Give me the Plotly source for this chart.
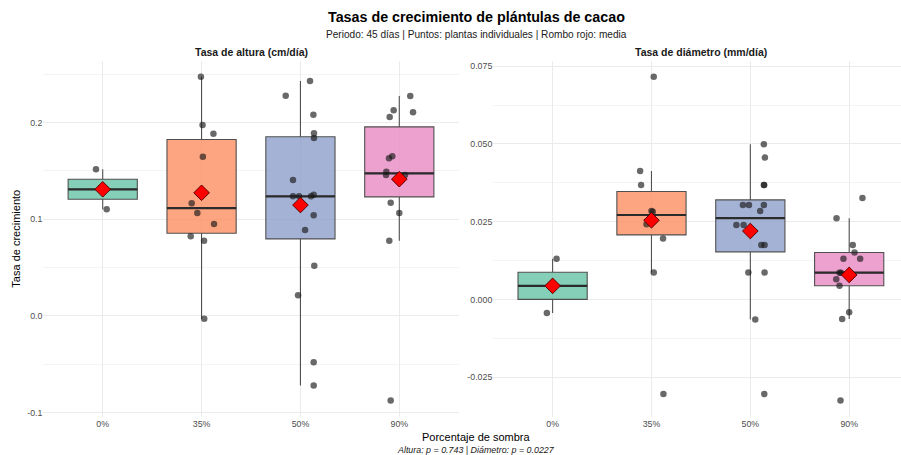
import numpy as np
import plotly.graph_objects as go

# ---------------- data ----------------
categorias = ["0%", "35%", "50%", "90%"]

# Tasa de altura (cm/día)
altura_0 = [0.1517, 0.1103]
altura_35 = [0.2475, 0.1975, 0.1885, 0.1647, 0.1165, 0.1065, 0.0951, 0.0824, 0.0779, -0.0028]
altura_50 = [0.2430, 0.2278, 0.2082, 0.1889, 0.1841, 0.1406, 0.1237, 0.1237, 0.1237, 0.1254,
             0.1041, 0.0889, 0.0520, 0.0214, -0.0479, -0.0720]
altura_90 = [0.2275, 0.2127, 0.2106, 0.2058, 0.1651, 0.1630, 0.1492, 0.1458, 0.1458, 0.1410,
             0.1172, 0.1065, 0.0779, -0.0876]

# Tasa de diámetro (mm/día)
diametro_0 = [0.01308, -0.00432]
diametro_35 = [0.0716, 0.0413, 0.0368, 0.0284, 0.0282, 0.0261, 0.0242, 0.0196, 0.0087, -0.0304]
diametro_50 = [0.0499, 0.0456, 0.0368, 0.0368, 0.0304, 0.0304, 0.0304, 0.0284, 0.0239, 0.0239,
               0.0175, 0.0175, 0.0087, 0.0087, -0.0064, -0.0304]
diametro_90 = [0.0326, 0.0261, 0.0175, 0.0151, 0.0131, 0.0131, 0.0086, 0.0086, 0.0065, 0.0044,
               -0.0041, -0.0063, -0.0325]

# horizontal jitter of each plant (in category units)
jit_altura_0 = [-0.068, 0.040]
jit_altura_35 = [-0.007, 0.010, 0.120, 0.013, -0.100, -0.043, 0.126, -0.110, 0.025, 0.027]
jit_altura_50 = [0.097, -0.149, 0.131, 0.137, 0.137, -0.075, -0.075, -0.014, 0.107, 0.134,
                 0.134, 0.047, 0.140, -0.024, 0.134, 0.134]
jit_altura_90 = [0.111, -0.057, 0.139, -0.097, -0.071, -0.104, -0.131, -0.134, 0.058, 0.000,
                 -0.087, 0.000, -0.101, -0.087]
jit_diametro_0 = [0.040, -0.058]
jit_diametro_35 = [0.023, -0.115, -0.105, 0.000, 0.013, 0.003, -0.050, 0.117, 0.023, 0.121]
jit_diametro_50 = [0.137, 0.147, 0.137, 0.140, -0.075, -0.014, 0.137, 0.100, -0.141, -0.068,
                   0.111, 0.144, -0.020, 0.144, 0.050, 0.141]
jit_diametro_90 = [0.134, -0.128, 0.036, 0.054, -0.058, 0.111, -0.098, -0.083, -0.131, -0.098,
                   0.000, -0.071, -0.088]

colores = ["#66C2A5", "#FC8D62", "#8DA0CB", "#E78AC3"]

titulo = "Tasas de crecimiento de plántulas de cacao"
subtitulo = "Periodo: 45 días | Puntos: plantas individuales | Rombo rojo: media"
faceta_altura = "Tasa de altura (cm/día)"
faceta_diametro = "Tasa de diámetro (mm/día)"
eje_x = "Porcentaje de sombra"
eje_y = "Tasa de crecimiento"
pie = "Altura: p = 0.743 | Diámetro: p = 0.0227"

altura_ticks = [-0.1, 0.0, 0.1, 0.2]
altura_ticktext = ["-0.1", "0.0", "0.1", "0.2"]
altura_minor = [-0.05, 0.05, 0.15, 0.25]
diametro_ticks = [-0.025, 0.0, 0.025, 0.05, 0.075]
diametro_ticktext = ["-0.025", "0.000", "0.025", "0.050", "0.075"]
diametro_minor = [-0.0375, -0.0125, 0.0125, 0.0375, 0.0625]

# ---------------- layout helpers ----------------
W, H = 901, 455
FONT = "Liberation Sans, Arial, Helvetica, sans-serif"


def hex_rgba(h, a):
    h = h.lstrip("#")
    return f"rgba({int(h[0:2], 16)},{int(h[2:4], 16)},{int(h[4:6], 16)},{a})"


def py(p):
    return 1 - p / H


def box_stats(vals):
    v = np.sort(np.array(vals, dtype=float))
    q1, med, q3 = np.percentile(v, [25, 50, 75])  # R type 7
    iqr = q3 - q1
    lo = v[v >= q1 - 1.5 * iqr].min()
    hi = v[v <= q3 + 1.5 * iqr].max()
    return float(q1), float(med), float(q3), float(lo), float(hi)


fig = go.Figure()

paneles = [
    ("x", "y", [altura_0, altura_35, altura_50, altura_90],
     [jit_altura_0, jit_altura_35, jit_altura_50, jit_altura_90]),
    ("x2", "y2", [diametro_0, diametro_35, diametro_50, diametro_90],
     [jit_diametro_0, jit_diametro_35, jit_diametro_50, jit_diametro_90]),
]

BOXW = 0.7
rangos_y = []
for xa, ya, grupos, jits in paneles:
    todos = np.concatenate([np.array(g) for g in grupos])
    lo_all, hi_all = todos.min(), todos.max()
    span = hi_all - lo_all
    rangos_y.append([lo_all - 0.05 * span, hi_all + 0.05 * span])
    for i, vals in enumerate(grupos):
        q1, med, q3, lo, hi = box_stats(vals)
        fig.add_trace(go.Box(
            x=[i], q1=[q1], median=[med], q3=[q3], lowerfence=[lo], upperfence=[hi],
            width=BOXW, fillcolor=hex_rgba(colores[i], 0.8),
            line=dict(color="#505050", width=1.1), whiskerwidth=0,
            xaxis=xa, yaxis=ya, showlegend=False, hoverinfo="skip"))
        fig.add_trace(go.Scatter(
            x=[i - BOXW / 2, i + BOXW / 2], y=[med, med], mode="lines",
            line=dict(color="#2b2b2b", width=2.2), xaxis=xa, yaxis=ya,
            showlegend=False, hoverinfo="skip"))
    for i, (vals, jit) in enumerate(zip(grupos, jits)):
        fig.add_trace(go.Scatter(
            x=i + np.array(jit), y=vals, mode="markers",
            marker=dict(color="rgba(25,25,25,0.65)", size=6.5, line=dict(width=0)),
            xaxis=xa, yaxis=ya, showlegend=False, hoverinfo="skip"))
    fig.add_trace(go.Scatter(
        x=list(range(len(grupos))), y=[float(np.mean(g)) for g in grupos], mode="markers",
        marker=dict(symbol="diamond", color="#FF0000", size=12,
                    line=dict(color="#5a0000", width=1)),
        xaxis=xa, yaxis=ya, showlegend=False, hoverinfo="skip"))

# domains (px)
left_x0, left_x1 = 43.4, 458.6
right_x0 = 493.3
unit_px = (left_x1 - left_x0) / 4.2
right_hi = -0.6 + (W - right_x0) / unit_px
top_px, bot_px = 60.5, 416.8
ydom = [py(bot_px), py(top_px)]

GRID = "#EBEBEB"
MINOR = "#F4F4F4"
tickfont = dict(family=FONT, size=8.8, color="#4D4D4D")

xcommon = dict(tickmode="array", tickvals=list(range(4)), ticktext=categorias,
               showgrid=True, gridcolor=GRID, gridwidth=1, zeroline=False,
               showline=False, ticks="", tickfont=tickfont, fixedrange=True)

fig.update_layout(
    width=W, height=H, autosize=False,
    margin=dict(l=0, r=0, t=0, b=0),
    paper_bgcolor="white", plot_bgcolor="white",
    boxmode="overlay",
    xaxis=dict(domain=[left_x0 / W, left_x1 / W], range=[-0.6, 3.6], anchor="y", **xcommon),
    xaxis2=dict(domain=[right_x0 / W, 1.0], range=[-0.6, right_hi], anchor="y2", **xcommon),
    yaxis=dict(domain=ydom, range=rangos_y[0], anchor="x", tickmode="array",
               tickvals=altura_ticks, ticktext=altura_ticktext,
               showgrid=True, gridcolor=GRID, gridwidth=1, zeroline=False, ticks="",
               tickfont=tickfont, showline=False,
               minor=dict(tickmode="array", tickvals=altura_minor, showgrid=True,
                          gridcolor=MINOR, gridwidth=0.8)),
    yaxis2=dict(domain=ydom, range=rangos_y[1], anchor="x2", tickmode="array",
                tickvals=diametro_ticks, ticktext=diametro_ticktext,
                showgrid=True, gridcolor=GRID, gridwidth=1, zeroline=False, ticks="",
                tickfont=tickfont, showline=False,
                minor=dict(tickmode="array", tickvals=diametro_minor, showgrid=True,
                           gridcolor=MINOR, gridwidth=0.8)),
)

center_all = 476.0
anns = [
    dict(text=f"<b>{titulo}</b>", x=center_all / W, y=py(17), size=14.3, color="#000000"),
    dict(text=subtitulo, x=center_all / W, y=py(34.5), size=10.1, color="#1a1a1a"),
    dict(text=f"<b>{faceta_altura}</b>", x=(left_x0 + left_x1) / 2 / W, y=py(51.5), size=10.5, color="#1a1a1a"),
    dict(text=f"<b>{faceta_diametro}</b>", x=(right_x0 + right_x0 + 4.2 * unit_px) / 2 / W, y=py(51.5), size=10.5, color="#1a1a1a"),
    dict(text=eje_x, x=center_all / W, y=py(436.5), size=11, color="#000000"),
    dict(text=f"<i>{pie}</i>", x=center_all / W, y=py(450), size=8.9, color="#1a1a1a"),
]
for a in anns:
    fig.add_annotation(text=a["text"], x=a["x"], y=a["y"], xref="paper", yref="paper",
                       xanchor="center", yanchor="middle", showarrow=False,
                       font=dict(family=FONT, size=a["size"], color=a["color"]))
fig.add_annotation(text=eje_y, x=16 / W, y=py((top_px + bot_px) / 2), xref="paper", yref="paper",
                   xanchor="center", yanchor="middle", showarrow=False, textangle=-90,
                   font=dict(family=FONT, size=11, color="#000000"))

fig.write_html("out.html", config={"displayModeBar": False},
               post_script="document.body.style.margin='0';document.body.style.overflow='hidden';")
